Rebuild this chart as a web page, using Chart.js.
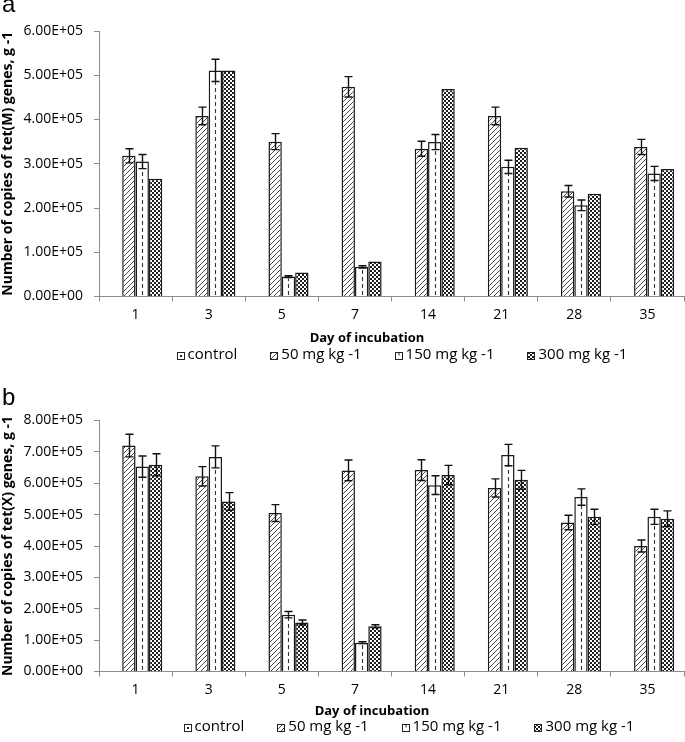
<!DOCTYPE html>
<html><head><meta charset="utf-8">
<script src="https://cdn.jsdelivr.net/npm/chart.js@4.4.1/dist/chart.umd.min.js"></script>
<style>
html,body{margin:0;padding:0;background:#fff;width:685px;height:742px;overflow:hidden;position:relative;}
.wrap{position:absolute;left:0;width:685px;}
.lbl{position:absolute;left:2px;font:24px 'Liberation Sans',Arial,sans-serif;line-height:24px;color:#000;}
</style></head><body>
<div class="wrap" style="top:0;height:372px"><canvas id="ca" width="685" height="372"></canvas></div>
<div class="wrap" style="top:372px;height:370px"><canvas id="cb" width="685" height="370"></canvas></div>
<div class="lbl" style="top:-8px">a</div>
<div class="lbl" style="top:385px">b</div>
<script>
// ---------- data ----------
const days = ['1', '3', '5', '7', '14', '21', '28', '35'];
const seriesNames = ['control', '50 mg kg -1', '150 mg kg -1', '300 mg kg -1'];
const yTicksA = ['0.00E+00', '1.00E+05', '2.00E+05', '3.00E+05', '4.00E+05', '5.00E+05', '6.00E+05'];
const yTicksB = ['0.00E+00', '1.00E+05', '2.00E+05', '3.00E+05', '4.00E+05', '5.00E+05', '6.00E+05', '7.00E+05', '8.00E+05'];
const yTitleA = 'Number of copies of tet(M) genes, g -1';
const yTitleB = 'Number of copies of tet(X) genes, g -1';
const xTitle = 'Day of incubation';

// panel a: tet(M)
const controlA = [null, null, null, null, null, null, null, null];
const mg50A = [318000, 408000, 350000, 474000, 334000, 408000, 238000, 338000];
const mg50ErrA = [16000, 20000, 18000, 23000, 17000, 20000, 13000, 17000];
const mg150A = [305000, 511000, 45000, 67000, 349000, 293000, 206000, 278000];
const mg150ErrA = [16000, 25000, 2000, 2500, 17000, 15000, 12000, 16000];
const mg300A = [266000, 511000, 54000, 79000, 469000, 336000, 232000, 288000];
const mg300ErrA = [null, null, null, null, null, null, null, null];

// panel b: tet(X)
const controlB = [null, null, null, null, null, null, null, null];
const mg50B = [720000, 622000, 505000, 641000, 642000, 585000, 475000, 400000];
const mg50ErrB = [36000, 31000, 27000, 33000, 33000, 29000, 23000, 19000];
const mg150B = [653000, 684000, 181000, 92000, 594000, 690000, 556000, 493000];
const mg150ErrB = [34000, 35000, 10000, 3000, 30000, 34000, 26000, 24000];
const mg300B = [659000, 542000, 156000, 144000, 626000, 611000, 493000, 487000];
const mg300ErrB = [35000, 28000, 8000, 5000, 31000, 30000, 24000, 25000];

// ---------- patterns ----------
function tile(w, h, draw) {
  const c = document.createElement('canvas'); c.width = w; c.height = h;
  const g = c.getContext('2d'); draw(g, w, h);
  return g.createPattern(c, 'repeat');
}
const hatchFill = tile(5, 5, (g) => {
  g.fillStyle = '#fff'; g.fillRect(0, 0, 5, 5);
  g.strokeStyle = '#4a4a4a'; g.lineWidth = 1;
  g.beginPath();
  g.moveTo(-1, 6); g.lineTo(6, -1);
  g.moveTo(-1, 1); g.lineTo(1, -1);
  g.moveTo(4, 6); g.lineTo(6, 4);
  g.stroke();
});
const checkFill = tile(4, 4, (g) => {
  g.fillStyle = '#fff'; g.fillRect(0, 0, 4, 4);
  g.fillStyle = '#1e1e1e'; g.fillRect(0, 0, 2, 2); g.fillRect(2, 2, 2, 2);
});
const controlFill = '#fff';
const plainFill = '#fff';

const FONT = "'Open Sans', Lato, sans-serif";

// ---------- plugin: dashed centre, error bars, x title, legend ----------
const overlay = {
  id: 'overlay',
  afterDatasetsDraw(chart) {
    const ctx = chart.ctx, ys = chart.scales.y;
    const dsets = chart.data.datasets;
    dsets.forEach((ds, di) => {
      if (!ds.centerDash) return;
      chart.getDatasetMeta(di).data.forEach((bar, i) => {
        if (ds.data[i] == null) return;
        const p = bar.getProps(['x', 'y', 'base'], true);
        ctx.save();
        ctx.setLineDash([4, 3]); ctx.strokeStyle = '#333'; ctx.lineWidth = 1.1;
        const xx = Math.round(p.x) + 0.5;
        ctx.beginPath(); ctx.moveTo(xx, p.base - 1); ctx.lineTo(xx, p.y + 2); ctx.stroke();
        ctx.restore();
      });
    });
    dsets.forEach((ds, di) => {
      if (!ds.errors) return;
      chart.getDatasetMeta(di).data.forEach((bar, i) => {
        const v = ds.data[i], e = ds.errors[i];
        if (v == null || e == null) return;
        const p = bar.getProps(['x'], true);
        const yt = ys.getPixelForValue(v + e), yb = ys.getPixelForValue(v - e);
        const xx = Math.round(p.x) + 0.5;
        ctx.save();
        ctx.strokeStyle = '#111'; ctx.lineWidth = 1.4;
        ctx.beginPath();
        ctx.moveTo(xx, yt); ctx.lineTo(xx, yb);
        ctx.moveTo(xx - 4, yt); ctx.lineTo(xx + 4, yt);
        ctx.moveTo(xx - 4, yb); ctx.lineTo(xx + 4, yb);
        ctx.stroke();
        ctx.restore();
      });
    });
  },
  afterDraw(chart, args, opts) {
    const ctx = chart.ctx;
    const dsets = chart.data.datasets;
    ctx.save();
    // x-axis title
    ctx.font = "bold 13px " + FONT;
    ctx.textBaseline = 'middle'; ctx.textAlign = 'center'; ctx.fillStyle = '#000';
    ctx.fillText(opts.xTitle, opts.xTitleX, opts.xTitleY);
    // legend
    ctx.font = opts.font;
    ctx.textAlign = 'left';
    const box = 7, gapText = 4, gapItem = opts.gap;
    const widths = dsets.map(ds => box + gapText + ctx.measureText(ds.label).width);
    const total = widths.reduce((a, b) => a + b, 0) + gapItem * (dsets.length - 1);
    let x = opts.center - total / 2;
    const y = opts.y;
    dsets.forEach((ds, i) => {
      const bx = Math.round(x) + 0.5, by = Math.round(y - box / 2) + 0.5;
      ctx.fillStyle = ds.backgroundColor;
      ctx.fillRect(bx, by, box, box);
      ctx.strokeStyle = '#222'; ctx.lineWidth = 1;
      ctx.strokeRect(bx, by, box, box);
      if (ds.legendMark === 'dot') { ctx.fillStyle = '#222'; ctx.fillRect(bx + 2.5, by + 2.5, 2, 2); }
      if (ds.legendMark === 'tick') { ctx.beginPath(); ctx.moveTo(bx + 3.5, by); ctx.lineTo(bx + 3.5, by + 3); ctx.stroke(); }
      ctx.fillStyle = '#000';
      ctx.fillText(ds.label, x + box + gapText, y);
      x += widths[i] + gapItem;
    });
    ctx.restore();
  }
};

function datasets(ctrl, d50, e50, d150, e150, d300, e300) {
  const common = { borderColor: '#1a1a1a', borderWidth: 1.5, borderSkipped: 'bottom' };
  return [
    Object.assign({ label: seriesNames[0], data: ctrl, backgroundColor: controlFill, legendMark: 'dot' }, common),
    Object.assign({ label: seriesNames[1], data: d50, errors: e50, backgroundColor: hatchFill }, common),
    Object.assign({ label: seriesNames[2], data: d150, errors: e150, backgroundColor: plainFill, centerDash: true, legendMark: 'tick' }, common),
    Object.assign({ label: seriesNames[3], data: d300, errors: e300, backgroundColor: checkFill }, common),
  ];
}

const axisColor = '#8c8c8c';
function makeChart(id, dsets, yMax, yLabels, yTitle, pad, xHeight, ov) {
  return new Chart(document.getElementById(id), {
    type: 'bar',
    data: { labels: days, datasets: dsets },
    plugins: [overlay],
    options: {
      responsive: false, animation: false, devicePixelRatio: 1,
      layout: { padding: pad },
      datasets: { bar: { categoryPercentage: 0.73, barPercentage: 1.0 } },
      plugins: {
        legend: { display: false }, tooltip: { enabled: false },
        overlay: Object.assign({ font: "15px " + FONT, gap: 33, xTitle: xTitle }, ov)
      },
      scales: {
        x: {
          grid: { display: true, drawOnChartArea: false, drawTicks: true, tickLength: 5, color: axisColor, offset: true },
          border: { display: true, color: axisColor, width: 1 },
          ticks: { color: '#000', font: { family: FONT, size: 14 }, padding: 5, maxRotation: 0 },
          title: { display: false },
          afterFit: (s) => { s.height = xHeight; }
        },
        y: {
          min: 0, max: yMax,
          grid: { display: true, drawOnChartArea: false, drawTicks: true, tickLength: 5, color: axisColor },
          border: { display: true, color: axisColor, width: 1 },
          ticks: { stepSize: 100000, color: '#000', font: { family: FONT, size: 14 }, padding: 11,
                   callback: (v) => yLabels[Math.round(v / 100000)] },
          title: { display: true, text: yTitle, color: '#000', font: { family: FONT, size: 14, weight: 'bold' }, padding: { top: 0, bottom: 0 } },
          afterFit: (s) => { s.width = 99; }
        }
      }
    }
  });
}

makeChart('ca', datasets(controlA, mg50A, mg50ErrA, mg150A, mg150ErrA, mg300A, mg300ErrA),
  600000, yTicksA, yTitleA, { top: 31, left: 0, right: 1, bottom: 25.5 }, 50,
  { center: 402, y: 355, xTitleX: 367, xTitleY: 338 });
makeChart('cb', datasets(controlB, mg50B, mg50ErrB, mg150B, mg150ErrB, mg300B, mg300ErrB),
  800000, yTicksB, yTitleB, { top: 48.5, left: 0, right: 1, bottom: 23.5 }, 47,
  { center: 409, y: 355, xTitleX: 372, xTitleY: 339 });
</script>
</body></html>
